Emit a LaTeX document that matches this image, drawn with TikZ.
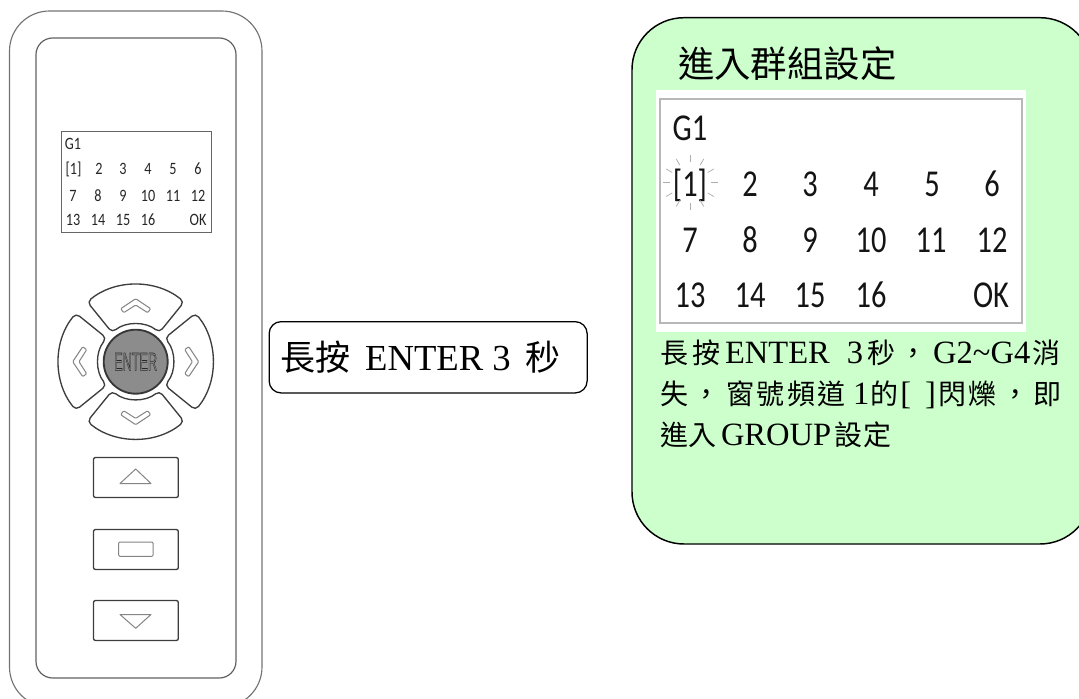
\documentclass[tikz,border=0pt]{standalone}
\usepackage{fontspec}
\usetikzlibrary{calc}
\setmainfont{Liberation Serif}
\newfontfamily\cjk{Noto Sans CJK TC}
\newfontfamily\lcdf{Carlito}
\newfontfamily\btnf{Liberation Sans}
\newcommand{\gp}[1]{\kern#1\dimexpr.75pt\relax}
\newcommand{\zh}[1]{{\cjk\fontsize{21}{21}\selectfont #1}}
\newcommand{\zhb}[1]{{\cjk\fontsize{26.25}{26}\selectfont #1}}
\definecolor{panelgreen}{HTML}{CCFFCC}
\tikzset{
  shell/.style={draw=black!55,line width=.85pt},
  shellin/.style={draw=black!62,line width=.9pt},
  keyline/.style={draw=black!76,line width=1pt,fill=white},
  icon/.style={draw=black!48,line width=.75pt,line join=round},
  ray/.style={draw=black!32,line width=.55pt},
  txt/.style={anchor=base west,inner sep=0pt,outer sep=0pt,text=black},
  lcdbig/.style={anchor=base,inner sep=0pt,outer sep=0pt,xscale=.8,text=black!92,font=\lcdf\fontsize{28.5}{28.5}\selectfont},
  lcdsm/.style={anchor=base,inner sep=0pt,outer sep=0pt,xscale=.82,text=black!85,font=\lcdf\fontsize{13}{13}\selectfont}
}
\begin{document}
\begin{tikzpicture}[x=.75pt,y=-.75pt]
\useasboundingbox (0,0) rectangle (1079,699);
\clip (0,0) rectangle (1079,699);
% remote shell
\draw[shell,rounded corners=30pt] (9.5,11) rectangle (262,707);
\draw[shellin,rounded corners=12.5pt] (36,38) rectangle (236,678);
% small LCD
\node[draw=black!60,line width=1pt,fill=white,minimum width=112.5pt,minimum height=75.75pt,inner sep=0pt,anchor=north west] (lcdS) at (60.7,131) {};
\foreach \t/\x/\y/\n in {G1/73/150/a,[1]/73.5/175/b,2/99/175/c,3/123/175/d,4/148/175/e,5/173/175/f,6/198/175/g,
 7/73/201/h,8/98/201/i,9/123/201/j,10/148/201/k,11/173/201/l,12/198/201/m,
 13/73/225/n,14/98/225/o,15/123/225/p,16/148/225/q,OK/198/225/r}
  \node[lcdsm] (s\n) at (\x,\y) {\t};
% d-pad
\begin{scope}[shift={(135.7,361.7)}]
  \foreach \a in {0,90,180,270}{
    \begin{scope}[rotate=\a]
      \draw[keyline,rounded corners=3.5pt] (-129:77) arc[start angle=-129,end angle=-51,radius=77]
        -- (-51:37.5) arc[start angle=-51,end angle=-129,radius=37.5] -- cycle;
    \end{scope}
  }
\end{scope}
\begin{scope}[shift={(135.7,361.7)}]
  \foreach \a in {0,90,180,270}{
    \begin{scope}[rotate=\a]
      \draw[icon,fill=white,rounded corners=.8pt] (0,-63) -- (15,-53) -- (12,-49) -- (0,-56.7) -- (-12,-49) -- (-15,-53) -- cycle;
    \end{scope}
  }
\end{scope}
\node[circle,draw=black!78,line width=1.4pt,fill=black!45,minimum size=48pt,inner sep=0pt] (enter) at (135.7,361.7) {};
\node[inner sep=0pt,xscale=.5,text=black!85,font=\btnf\fontsize{19}{19}\selectfont] (enterlabel) at (135.7,361.7) {\special{pdf:code 1 Tr 0.45 w}ENTER\special{pdf:code 0 Tr}};
% square keys
\draw[keyline,rounded corners=1.5pt] (93.5,457.5) rectangle (178.3,497.5);
\draw[icon] (120,483.5) -- (135.7,469) -- (151,483.5) -- cycle;
\draw[keyline,rounded corners=1.5pt] (93.5,529.5) rectangle (178.3,569.5);
\draw[icon,rounded corners=.8pt] (118.7,542) rectangle (153,556.3);
\draw[keyline,rounded corners=1.5pt] (93.5,600.5) rectangle (178.3,640.5);
\draw[icon] (120,614.5) -- (135.7,628.3) -- (151,614.5) -- cycle;
% middle label
\node[draw=black,line width=.95pt,rounded corners=9pt,minimum width=238.5pt,minimum height=53.5pt,inner sep=0pt,anchor=north west] (hold) at (268.5,321) {};
\node[txt,font=\fontsize{27.5}{28}\selectfont] (holdtext) at (280,370) {\zhb{長\gp{1}按}\gp{5} ENTER 3\gp{6} \zhb{秒}};
% green panel
\draw[draw=black,line width=1.1pt,fill=panelgreen,rounded corners=39pt] (632,17.7) rectangle (1092,544);
\node[txt] (title) at (678,78) {\cjk\fontsize{27.3}{28}\selectfont 進入群組設定};
\fill[white] (656,90) rectangle (1026,332);
\draw[draw=black!28,line width=.9pt] (660,99) rectangle (1022,323);
\foreach \t/\x/\y/\n in {G1/690/141/a,[1]/690/196/b,2/750/196/c,3/810/196/d,4/871/196/e,5/932/196/f,6/992/196/g,
 7/690/252/h,8/750/252/i,9/810/252/j,10/871/252/k,11/931/252/l,12/992/252/m,
 13/690/307/n,14/750/307/o,15/810/307/p,16/871/307/q,OK/991/307/r}
  \node[lcdbig] (b\n) at (\x,\y) {\t};
\foreach \a in {0,30,...,330}
  \draw[ray] ($(690,182.7)+(\a:20.5)$) -- ($(690,182.7)+(\a:27.5)$);
\node[txt,font=\fontsize{24.4}{25}\selectfont] (l1) at (660,363) {\zh{長\gp{5}按}\gp{4}ENTER\gp{9} 3\gp{4}\zh{秒\gp{4}，\gp{6}}G2\char`\~G4\gp{2}\zh{消}};
\node[txt,font=\fontsize{24.4}{25}\selectfont] (l2) at (660,404) {\zh{失\gp{5}，\gp{6}窗\gp{2}號\gp{3}頻\gp{2}道}\gp{7}1\gp{1}\zh{的}\gp{2}[\gp{6} ]\gp{2}\zh{閃\gp{2}爍\gp{5}，\gp{4}即}};
\node[txt,font=\fontsize{24.4}{25}\selectfont] (l3) at (660,445) {\zh{進\gp{1}入}\gp{4}GROUP\gp{3}\zh{設\gp{1}定}};
\end{tikzpicture}
\end{document}
